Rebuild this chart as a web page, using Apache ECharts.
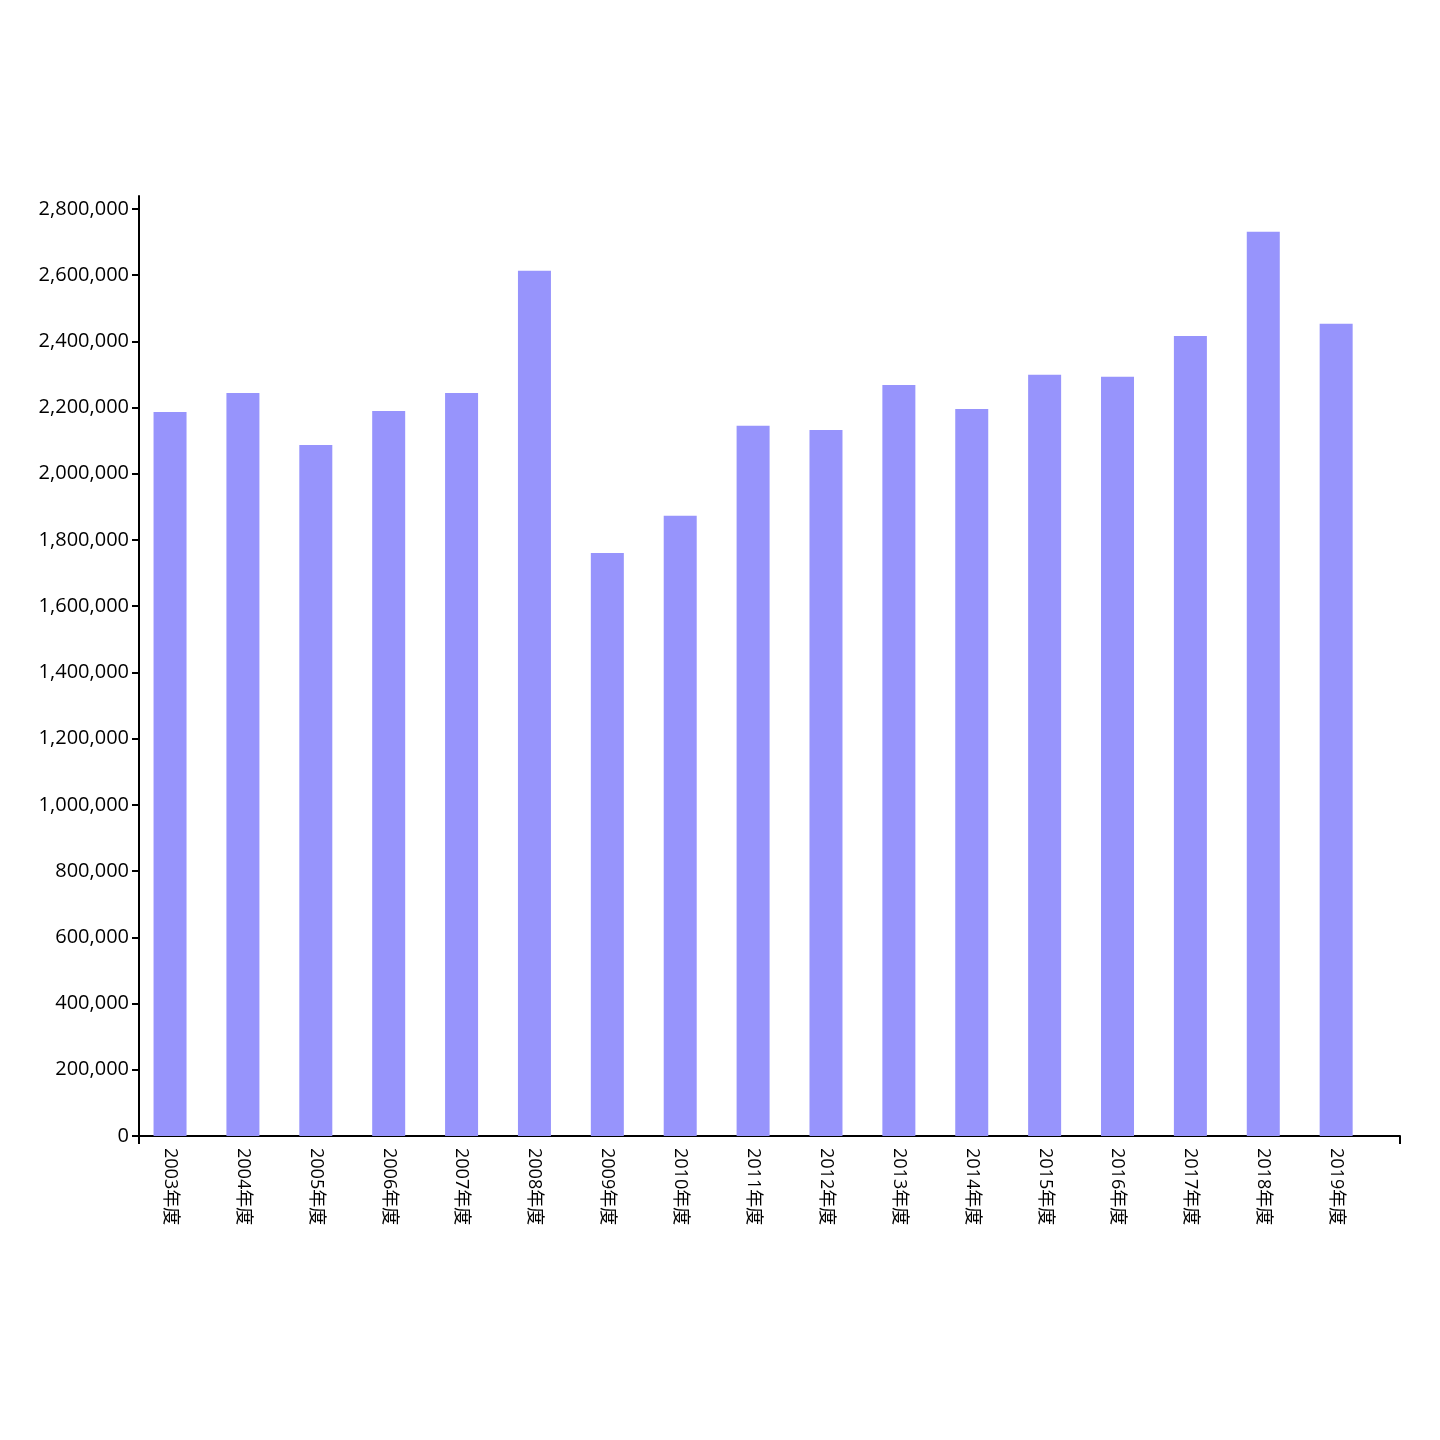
<!DOCTYPE html>
<html>
<head>
<meta charset="utf-8">
<script src="https://cdn.jsdelivr.net/npm/echarts@6/dist/echarts.min.js"></script>
<style>html,body{margin:0;background:#fff}#chart{width:1440px;height:1440px}</style>
</head>
<body>
<div id="chart"></div>
<script>
const years = ['2003年度','2004年度','2005年度','2006年度','2007年度','2008年度','2009年度','2010年度','2011年度','2012年度','2013年度','2014年度','2015年度','2016年度','2017年度','2018年度','2019年度']
const values = [2187000,2244000,2087000,2190000,2244000,2613000,1761000,1873000,2145000,2132000,2268000,2196000,2299000,2293000,2416000,2731000,2453000]

const font = '"Open Sans", "Noto Sans CJK JP", sans-serif'
const yMax = 2839000
let chart = echarts.init(document.getElementById('chart'))
chart.setOption({
  animation: false,
  textStyle: { fontFamily: font },
  grid: [
    { left: 133.6, right: 67.4, top: 196, bottom: 304 },
    { left: 139, right: 40, top: 196, bottom: 304 }
  ],
  xAxis: [{
    type: 'category', gridIndex: 0,
    data: years,
    axisLine: { show: false },
    axisTick: { alignWithLabel: true, length: 7, lineStyle: { color: '#000', width: 2 } },
    axisLabel: { rotate: -90, color: '#000', fontSize: 18, margin: 12, fontFamily: font }
  }, {
    type: 'value', gridIndex: 1, min: 0, max: 1, interval: 1,
    position: 'bottom',
    axisLine: { show: true, lineStyle: { color: '#000', width: 2 } },
    axisTick: { show: true, length: 8, lineStyle: { color: '#000', width: 2 } },
    axisLabel: { show: false },
    splitLine: { show: false }
  }],
  yAxis: [{
    type: 'value', gridIndex: 0, min: 0, max: yMax, show: false,
    splitLine: { show: false }
  }, {
    type: 'value', gridIndex: 1, min: 0, max: yMax, interval: 200000,
    axisLine: { show: true, lineStyle: { color: '#000', width: 2 } },
    axisTick: { show: true, length: 7, lineStyle: { color: '#000', width: 2 } },
    axisLabel: { showMaxLabel: false, color: '#000', fontSize: 20, margin: 10, fontFamily: font,
      formatter: v => v.toLocaleString('en-US') },
    splitLine: { show: false }
  }],
  series: [{
    type: 'bar', xAxisIndex: 0, yAxisIndex: 0,
    data: values,
    barWidth: 33,
    itemStyle: { color: '#9794fc' }
  }]
})
</script>
</body>
</html>
